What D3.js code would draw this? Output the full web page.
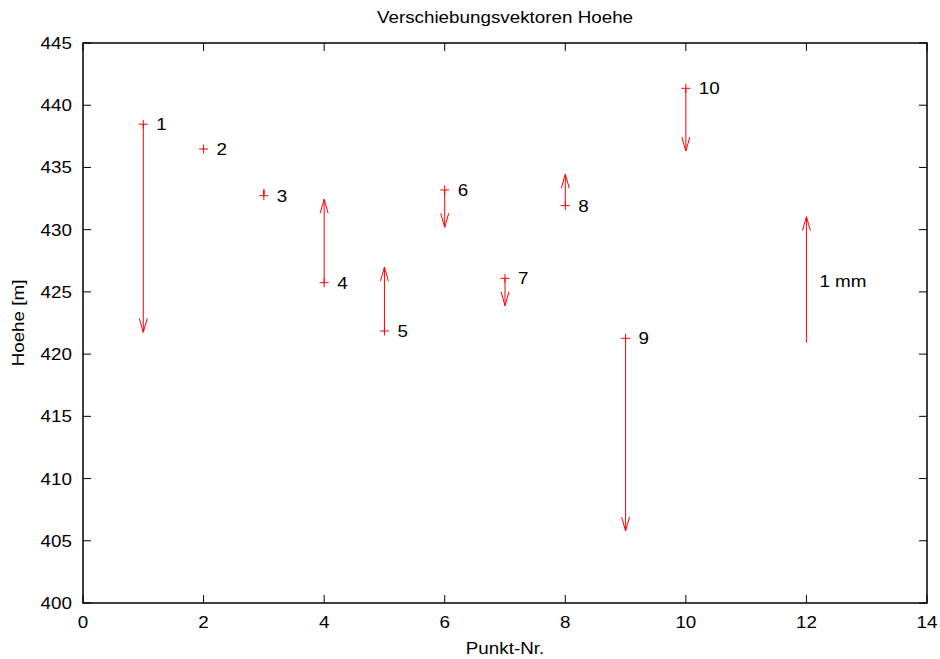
<!DOCTYPE html>
<html><head><meta charset="utf-8">
<script src="https://cdn.jsdelivr.net/npm/d3@7"></script>
<style>body{margin:0;background:#fff}text{font-family:"Liberation Sans",Arial,sans-serif;fill:#000}</style>
</head><body><svg id="c" width="940" height="659"></svg>
<script>
const pointIds = [1,2,3,4,5,6,7,8,9,10];
const pointX =   [1,2,3,4,5,6,7,8,9,10];
const heights =  [438.47,436.48,432.73,425.74,421.86,433.19,426.09,431.93,421.27,441.36];
const arrowEnds =[421.75,436.48,433.25,432.44,426.98,430.19,423.89,434.45,405.79,436.32];
const scaleArrow = {x:12, y0:420.92, y1:431.04, label:"1 mm"};
const xTicks = [0,2,4,6,8,10,12,14];
const yTicks = [400,405,410,415,420,425,430,435,440,445];

const svg = d3.select("#c");
const m = {l:83, r:927, t:43, b:603};
const x = d3.scaleLinear().domain([0,14]).range([m.l,m.r]);
const y = d3.scaleLinear().domain([400,445]).range([m.b,m.t]);
const red = "#ff0000", fs = 16.5, sx = 1.14;

function label(px, py, txt, anchor, dy, rot){
  const t = svg.append("text")
    .attr("transform", `translate(${px},${py})` + (rot ? ` rotate(${rot})` : "") + ` scale(${sx},1)`)
    .attr("text-anchor", anchor || "start").attr("font-size", fs).text(txt);
  if (dy) t.attr("dy", dy);
  return t;
}

// frame
svg.append("rect").attr("x",m.l).attr("y",m.t).attr("width",m.r-m.l).attr("height",m.b-m.t)
  .attr("fill","none").attr("stroke","#000").attr("stroke-width",1.5);

// axes
const tl = 8;
const ax = svg.append("g").attr("stroke","#000").attr("stroke-width",1);
yTicks.forEach(v=>{
  ax.append("line").attr("x1",m.l).attr("x2",m.l+tl).attr("y1",y(v)).attr("y2",y(v));
  ax.append("line").attr("x1",m.r).attr("x2",m.r-tl).attr("y1",y(v)).attr("y2",y(v));
  label(72, y(v), v, "end", "0.36em");
});
xTicks.forEach(v=>{
  ax.append("line").attr("x1",x(v)).attr("x2",x(v)).attr("y1",m.b).attr("y2",m.b-tl);
  ax.append("line").attr("x1",x(v)).attr("x2",x(v)).attr("y1",m.t).attr("y2",m.t+tl);
  label(x(v), 628, v, "middle");
});

label(505, 23, "Verschiebungsvektoren Hoehe", "middle");
label(505, 654, "Punkt-Nr.", "middle");
label(24, (m.t+m.b)/2, "Hoehe [m]", "middle", null, -90);

function arrow(g, xv, y0v, y1v){
  const px = x(xv), p0 = y(y0v), p1 = y(y1v);
  g.append("line").attr("x1",px).attr("x2",px).attr("y1",p0).attr("y2",p1);
  const dir = p1 < p0 ? 1 : -1;
  const hl = 14, hw = 4;
  g.append("path").attr("fill","none")
    .attr("d",`M${px-hw},${p1+dir*hl}L${px},${p1}L${px+hw},${p1+dir*hl}`);
}

const g = svg.append("g").attr("stroke",red).attr("stroke-width",1);
pointIds.forEach((id,i)=>{
  const px = x(pointX[i]), py = y(heights[i]);
  const len = Math.abs(y(arrowEnds[i]) - py);
  if (len > 1) {
    if (len < 10) {
      g.append("line").attr("x1",px).attr("x2",px).attr("y1",py).attr("y2",y(arrowEnds[i])).attr("stroke-width",1.5);
    } else arrow(g, pointX[i], heights[i], arrowEnds[i]);
  }
  g.append("line").attr("x1",px-4.5).attr("x2",px+4.5).attr("y1",py).attr("y2",py);
  g.append("line").attr("x1",px).attr("x2",px).attr("y1",py-4.5).attr("y2",py+4.5);
  label(px+13, py, id, "start", "0.36em");
});
arrow(g, scaleArrow.x, scaleArrow.y0, scaleArrow.y1);
label(x(scaleArrow.x)+13, 281, scaleArrow.label, "start", "0.36em");
</script></body></html>
